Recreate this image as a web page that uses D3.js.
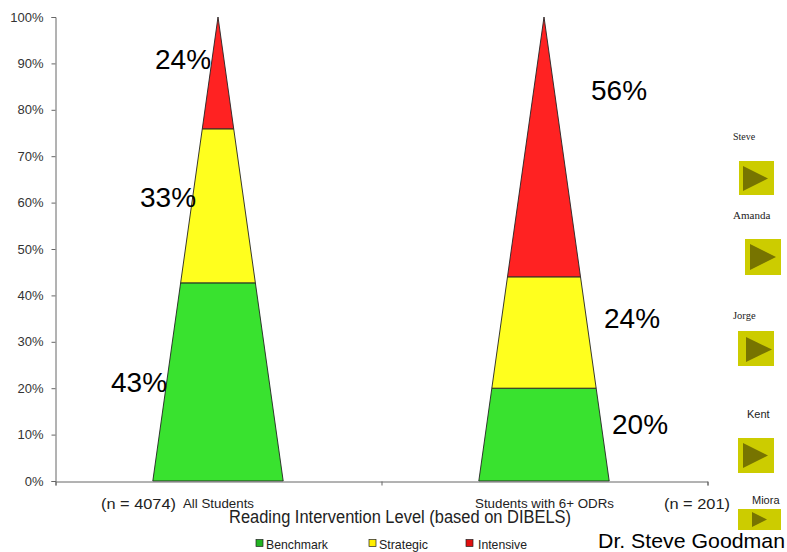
<!DOCTYPE html>
<html><head><meta charset="utf-8">
<script src="https://cdn.jsdelivr.net/npm/d3@7"></script>
<style>html,body{margin:0;padding:0;background:#fff}svg{display:block;font-family:"Liberation Sans",Arial,sans-serif}</style>
</head><body><svg id="c" width="787" height="552"></svg>
<script>
const groups = ["All Students", "Students with 6+ ODRs"];
const seriesNames = ["Benchmark", "Strategic", "Intensive"];
const benchmark = [42.7, 20];
const strategic = [33.2, 24];
const intensive = [24.1, 56];
const seriesColors = ["#39e22f", "#ffff1e", "#ff2222"];
const legendColors = ["#22b422", "#ffee00", "#e01010"];
const yTicks = [0,10,20,30,40,50,60,70,80,90,100];
const shownLabels = [["43%","33%","24%"],["20%","24%","56%"]];
const sampleSizes = ["(n = 4074)", "(n = 201)"];
const people = ["Steve","Amanda","Jorge","Kent","Miora"];

const svg = d3.select("#c");
const x = d3.scaleBand().domain(groups).range([55,707]);
const y = d3.scaleLinear().domain([0,100]).range([481,17]);
const baseW = x.step()*0.4;
const series = [benchmark,strategic,intensive];
const stack = groups.map((g,i)=>{let c=0;return series.map((s,j)=>{const d={g,j,y0:c,y1:c+s[i]};c=d.y1;return d;});});
const halfW = v => (baseW/2)*(1-v/100);
const cx = g => x(g)+x.bandwidth()/2;

stack.forEach(segs=>svg.append("g").selectAll("path").data(segs).join("path")
  .attr("d",d=>{const c=cx(d.g);return d3.line()([[c-halfW(d.y0),y(d.y0)],[c+halfW(d.y0),y(d.y0)],[c+halfW(d.y1),y(d.y1)],[c-halfW(d.y1),y(d.y1)]])+"Z";})
  .attr("fill",d=>seriesColors[d.j]).attr("stroke","#222").attr("stroke-width",0.9));

const yAxis = svg.append("g").attr("transform","translate(55.5,0)")
  .call(d3.axisLeft(y).tickValues(yTicks).tickFormat(d=>d+"%").tickSize(4).tickPadding(8));
yAxis.selectAll("path,line").attr("stroke","#666");
yAxis.selectAll("text").style("font-size","13px").style("font-family",'"Liberation Sans",Arial,sans-serif').attr("fill","#333");

const xAxis = svg.append("g").attr("transform","translate(0,481.5)")
  .call(d3.axisBottom(d3.scalePoint().domain(["a","b","c"]).range([55.5,707.5])).tickFormat("").tickSize(4));
xAxis.selectAll("path,line").attr("stroke","#666");

const T=(t,px,py,fs,o={})=>{const s=svg.append("text").text(t).attr("x",px).attr("y",py)
  .style("font-size",fs+"px").style("font-family",o.family||'"Liberation Sans",Arial,sans-serif')
  .attr("fill",o.fill||"#222");
  if(o.len) s.attr("textLength",o.len).attr("lengthAdjust","spacingAndGlyphs");
  return s;};

const labelPos=[[[111,392],[140,207],[155,69]],[[612,434],[604,328],[591,100]]];
shownLabels.forEach((a,i)=>a.forEach((t,j)=>T(t,labelPos[i][j][0],labelPos[i][j][1],28,{fill:"#000"})));

T(sampleSizes[0],101,509,15.5,{len:75});
T(groups[0],183,507.5,12,{len:71});
T(groups[1],475,507.5,12,{len:139});
T(sampleSizes[1],664,509,15.5,{len:66});
T("Reading Intervention Level (based on DIBELS)",229,522.5,17.5,{len:342});
T("Dr. Steve Goodman",598,548,21,{fill:"#000",len:187});

const legendX=[256,369,466];
const legendOff=[10,10,12];
const legendLen=[62,49,49];
const legend=svg.append("g").selectAll("g").data(seriesNames).join("g").attr("transform",(d,i)=>`translate(${legendX[i]},539.5)`);
legend.append("rect").attr("width",7).attr("height",7).attr("fill",(d,i)=>legendColors[i]).attr("stroke","#222").attr("stroke-width",0.7);
legend.append("text").text(d=>d).attr("x",(d,i)=>legendOff[i]).attr("y",9).style("font-size","13px").attr("fill","#222")
  .attr("textLength",(d,i)=>legendLen[i]).attr("lengthAdjust","spacingAndGlyphs");

const btn=[[739,161,35,34,743,166,25,25],[745,239,36,36,750,244,26,26],[738,331,36,35,746,337,26,25],[738,438,36,35,743,443,25,25],[738,509,43,21,752,512,15,15]];
const lab=[[733,140,10,"Liberation Serif"],[733,219,11,"Liberation Serif"],[733,319,10.5,"Liberation Serif"],[747,418,11,null],[752,504,11,null]];
people.forEach((p,i)=>{
  const b=btn[i],l=lab[i];
  T(p,l[0],l[1],l[2],{family:l[3]});
  svg.append("rect").attr("x",b[0]).attr("y",b[1]).attr("width",b[2]).attr("height",b[3]).attr("fill","#cccc00");
  svg.append("path").attr("d",d3.line()([[b[4],b[5]],[b[4]+b[6],b[5]+b[7]/2],[b[4],b[5]+b[7]]])+"Z").attr("fill","#777400");
});
</script></body></html>
